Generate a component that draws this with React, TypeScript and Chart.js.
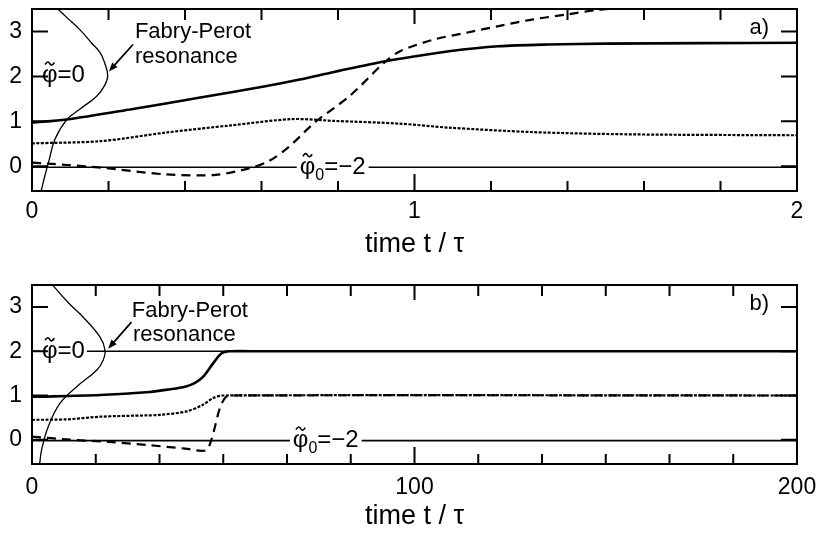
import { useEffect, useRef } from "react";
import { Chart, registerables } from "chart.js";

Chart.register(...registerables);

type Pt = [number, number];

const FONT = "'Liberation Sans', Arial, Helvetica, sans-serif";

// ---- shared phase axis ----
const phaseMin = -0.55;
const phaseMax = 3.5;
const phaseTicks = [0, 1, 2, 3];
const phi0Level = -0.02; // φ̃0 = −2 reference line
const phiZeroLevel = 2.0; // φ̃ = 0 reference line

// ---- panel a): t from 0 to 2 τ ----
const timeTicksA = [0, 1, 2];
const timeMinorA = [0.2, 0.4, 0.6, 0.8, 1.2, 1.4, 1.6, 1.8];
const resonanceA: Pt[] = [
  [0.024, -0.55], [0.034, -0.2], [0.043, 0.08], [0.06, 0.6], [0.091, 1.04],
  [0.125, 1.27], [0.169, 1.56], [0.19, 1.8], [0.198, 2.02], [0.19, 2.3],
  [0.178, 2.53], [0.155, 2.75], [0.125, 3.04], [0.095, 3.28], [0.065, 3.52],
];
const solidA: Pt[] = [
  [0, 0.97], [0.09, 1.04], [0.26, 1.27], [0.44, 1.53], [0.61, 1.78], [0.7, 1.93],
  [0.79, 2.1], [0.92, 2.33], [0.99, 2.43], [1.09, 2.56], [1.22, 2.67],
  [1.35, 2.71], [1.5, 2.73], [1.75, 2.74], [2.0, 2.75],
];
const dottedA: Pt[] = [
  [0, 0.51], [0.18, 0.56], [0.35, 0.75], [0.52, 0.91], [0.68, 1.05], [0.79, 1.01],
  [0.96, 0.95], [1.09, 0.86], [1.31, 0.76], [1.57, 0.71], [2.0, 0.69],
];
const dashedA: Pt[] = [
  [0, 0.08], [0.04, 0.06], [0.18, -0.03], [0.35, -0.18], [0.48, -0.19],
  [0.57, -0.04], [0.62, 0.12], [0.67, 0.42], [0.74, 0.98], [0.83, 1.56],
  [0.92, 2.3], [0.96, 2.55], [1.05, 2.82], [1.135, 2.97], [1.22, 3.12],
  [1.31, 3.27], [1.4, 3.38], [1.48, 3.48], [1.57, 3.53], [1.8, 3.58], [2.0, 3.6],
];

// ---- panel b): t from 0 to 200 τ ----
const timeTicksB = [0, 100, 200];
const timeMinorB = [
  16.667, 33.333, 50, 66.667, 83.333, 116.667, 133.333, 150, 166.667, 183.333,
];
const resonanceB: Pt[] = [
  [2.0, -0.55], [2.53, -0.22], [4.26, 0.3], [7.3, 0.82], [11.7, 1.2],
  [16.9, 1.57], [18.6, 1.8], [19.1, 2.02], [17.8, 2.32], [13.4, 2.77],
  [9.5, 3.1], [5.56, 3.48],
];
const solidB: Pt[] = [
  [0, 0.97], [17.8, 1.01], [30.8, 1.08], [36, 1.14], [40, 1.2], [42.5, 1.28],
  [44.7, 1.42], [47.3, 1.72], [49.5, 1.95], [51.7, 2.0], [60, 2.0], [200, 2.0],
];
const dottedB: Pt[] = [
  [0, 0.45], [9, 0.46], [17.8, 0.52], [30, 0.55], [33.4, 0.56], [40.4, 0.64],
  [44.7, 0.79], [47.3, 0.94], [50, 1.0], [200, 1.0],
];
const dashedB: Pt[] = [
  [0, 0.07], [10, 0.0], [20, -0.05], [30, -0.12], [40, -0.2], [45.5, -0.24],
  [46.9, 0.0], [48, 0.35], [49.1, 0.71], [50.5, 0.95], [52, 1.0], [200, 1.0],
];

type Notes = {
  tag: string;
  tagRight: Pt;
  fabryAt: Pt;
  resonanceAt: Pt;
  arrowFrom: Pt;
  arrowTo: Pt;
  phiAt: Pt;
  phi0At: Pt;
};

type PanelSpec = {
  xMax: number;
  xTicks: number[];
  xMinor: number[];
  resonance: Pt[];
  solid: Pt[];
  dotted: Pt[];
  dashed: Pt[];
  zeroLine: boolean;
  padTop: number;
  xAxisH: number;
  xLabelPad: number;
  titlePadB: number;
  notes: Notes;
};

const toXY = (pts: Pt[]) => pts.map(([x, y]) => ({ x, y }));

function drawTilde(ctx: CanvasRenderingContext2D, cx: number, cy: number, w: number) {
  ctx.save();
  ctx.lineWidth = 1.6;
  ctx.beginPath();
  ctx.moveTo(cx - w / 2, cy + 1);
  ctx.bezierCurveTo(cx - w / 4, cy - 2.5, cx - w / 8, cy - 2, cx, cy);
  ctx.bezierCurveTo(cx + w / 8, cy + 2, cx + w / 4, cy + 2.5, cx + w / 2, cy - 1);
  ctx.stroke();
  ctx.restore();
}

function notesPlugin(n: Notes, major: number[], minor: number[]) {
  return {
    id: "notes",
    afterDatasetsDraw(chart: any) {
      const { ctx, chartArea: a, scales } = chart;
      const px = (t: number) => scales.x.getPixelForValue(t);
      const py = (v: number) => scales.y.getPixelForValue(v);
      ctx.save();
      ctx.fillStyle = "#000";
      ctx.strokeStyle = "#000";
      ctx.textBaseline = "middle";
      ctx.textAlign = "left";

      // φ̃ = 0 label (breaks the reference line behind it)
      {
        const x = px(n.phiAt[0]);
        const y = py(n.phiAt[1]);
        ctx.font = `24px ${FONT}`;
        const wPhi = ctx.measureText("φ").width;
        const wRest = ctx.measureText("=0").width;
        ctx.fillStyle = "#fff";
        ctx.fillRect(x - 2, y - 4, wPhi + wRest + 4, 8);
        ctx.fillStyle = "#000";
        ctx.fillText("φ", x, y);
        drawTilde(ctx, x + wPhi / 2, y - 12, wPhi * 0.6);
        ctx.fillText("=0", x + wPhi, y);
      }

      // φ̃0 = −2 label on its reference line
      {
        const x = px(n.phi0At[0]);
        const y = py(n.phi0At[1]);
        ctx.font = `24px ${FONT}`;
        const wPhi = ctx.measureText("φ").width;
        const wEq = ctx.measureText("=−2").width;
        ctx.font = `16px ${FONT}`;
        const wSub = ctx.measureText("0").width;
        ctx.fillStyle = "#fff";
        ctx.fillRect(x - 3, y - 4, wPhi + wSub + wEq + 6, 8);
        ctx.fillStyle = "#000";
        ctx.font = `24px ${FONT}`;
        ctx.fillText("φ", x, y);
        drawTilde(ctx, x + wPhi / 2, y - 12, wPhi * 0.6);
        ctx.font = `16px ${FONT}`;
        ctx.fillText("0", x + wPhi, y + 8);
        ctx.font = `24px ${FONT}`;
        ctx.fillText("=−2", x + wPhi + wSub, y);
      }

      // Fabry-Perot resonance caption and arrow
      ctx.font = `22px ${FONT}`;
      ctx.fillText("Fabry-Perot", px(n.fabryAt[0]), py(n.fabryAt[1]));
      ctx.fillText("resonance", px(n.resonanceAt[0]), py(n.resonanceAt[1]));
      {
        const x0 = px(n.arrowFrom[0]);
        const y0 = py(n.arrowFrom[1]);
        const x1 = px(n.arrowTo[0]);
        const y1 = py(n.arrowTo[1]);
        const ang = Math.atan2(y1 - y0, x1 - x0);
        const head = 9;
        ctx.lineWidth = 1.8;
        ctx.beginPath();
        ctx.moveTo(x0, y0);
        ctx.lineTo(x1 - Math.cos(ang) * head * 0.6, y1 - Math.sin(ang) * head * 0.6);
        ctx.stroke();
        ctx.beginPath();
        ctx.moveTo(x1, y1);
        ctx.lineTo(
          x1 - head * Math.cos(ang) + 3.5 * Math.sin(ang),
          y1 - head * Math.sin(ang) - 3.5 * Math.cos(ang)
        );
        ctx.lineTo(
          x1 - head * Math.cos(ang) - 3.5 * Math.sin(ang),
          y1 - head * Math.sin(ang) + 3.5 * Math.cos(ang)
        );
        ctx.closePath();
        ctx.fill();
      }

      // panel tag
      ctx.textAlign = "right";
      ctx.font = `22px ${FONT}`;
      ctx.fillText(n.tag, px(n.tagRight[0]), py(n.tagRight[1]));

      // frame
      ctx.lineWidth = 2;
      ctx.strokeRect(a.left, a.top, a.right - a.left, a.bottom - a.top);

      // inward ticks on all four sides
      const yLen = 16;
      ctx.lineWidth = 2;
      ctx.beginPath();
      for (const v of phaseTicks) {
        const y = py(v);
        ctx.moveTo(a.left, y);
        ctx.lineTo(a.left + yLen, y);
        ctx.moveTo(a.right, y);
        ctx.lineTo(a.right - yLen, y);
      }
      for (const t of major) {
        const x = px(t);
        ctx.moveTo(x, a.bottom);
        ctx.lineTo(x, a.bottom - 17);
        ctx.moveTo(x, a.top);
        ctx.lineTo(x, a.top + 15);
      }
      for (const t of minor) {
        const x = px(t);
        ctx.moveTo(x, a.bottom);
        ctx.lineTo(x, a.bottom - 10);
        ctx.moveTo(x, a.top);
        ctx.lineTo(x, a.top + 11);
      }
      ctx.stroke();
      ctx.restore();
    },
  };
}

function buildConfig(p: PanelSpec): any {
  const lineBase = { showLine: true, pointRadius: 0, borderColor: "#000", fill: false };
  const datasets: any[] = [
    { ...lineBase, data: toXY(p.resonance), borderWidth: 1.3, tension: 0.4 },
    { ...lineBase, data: [{ x: 0, y: phi0Level }, { x: p.xMax, y: phi0Level }], borderWidth: 1.6 },
  ];
  if (p.zeroLine) {
    datasets.push({
      ...lineBase,
      data: [{ x: 0, y: phiZeroLevel }, { x: p.xMax, y: phiZeroLevel }],
      borderWidth: 1.6,
    });
  }
  datasets.push(
    { ...lineBase, data: toXY(p.dotted), borderWidth: 2.2, borderDash: [3, 1.5], tension: 0.3 },
    { ...lineBase, data: toXY(p.dashed), borderWidth: 2.2, borderDash: [9, 6], tension: 0.3 },
    { ...lineBase, data: toXY(p.solid), borderWidth: 2.6, tension: 0.3 }
  );
  const majors = p.xTicks.filter((t) => t > 0 && t < p.xMax);
  return {
    type: "scatter",
    data: { datasets },
    options: {
      animation: false,
      responsive: false,
      devicePixelRatio: 1,
      layout: { padding: { top: p.padTop, right: 22, bottom: 0, left: 0 } },
      plugins: { legend: { display: false }, tooltip: { enabled: false } },
      scales: {
        x: {
          type: "linear",
          min: 0,
          max: p.xMax,
          grid: { display: false, drawTicks: false },
          border: { display: false },
          ticks: {
            font: { family: FONT, size: 23 },
            color: "#000",
            padding: p.xLabelPad,
            maxRotation: 0,
            autoSkip: false,
            callback: (v: number) => String(v),
          },
          afterBuildTicks: (s: any) => {
            s.ticks = p.xTicks.map((value) => ({ value }));
          },
          afterFit: (s: any) => {
            s.height = p.xAxisH;
            s.paddingLeft = 0;
            s.paddingRight = 0;
          },
          title: {
            display: true,
            text: "time t / τ",
            font: { family: FONT, size: 27 },
            color: "#000",
            padding: { top: 0, bottom: p.titlePadB },
          },
        },
        y: {
          type: "linear",
          min: phaseMin,
          max: phaseMax,
          grid: { display: false, drawTicks: false },
          border: { display: false },
          ticks: {
            font: { family: FONT, size: 23 },
            color: "#000",
            padding: 10,
            autoSkip: false,
            callback: (v: number) => String(v),
          },
          afterBuildTicks: (s: any) => {
            s.ticks = phaseTicks.map((value) => ({ value }));
          },
          afterFit: (s: any) => {
            s.width = 32;
            s.paddingTop = 0;
            s.paddingBottom = 0;
          },
        },
      },
    },
    plugins: [notesPlugin(p.notes, majors, p.xMinor)],
  };
}

const panelA: PanelSpec = {
  xMax: 2,
  xTicks: timeTicksA,
  xMinor: timeMinorA,
  resonance: resonanceA,
  solid: solidA,
  dotted: dottedA,
  dashed: dashedA,
  zeroLine: false,
  padTop: 9,
  xAxisH: 75,
  xLabelPad: 7,
  titlePadB: 5,
  notes: {
    tag: "a)",
    tagRight: [1.927, 3.08],
    fabryAt: [0.269, 2.99],
    resonanceAt: [0.269, 2.43],
    arrowFrom: [0.264, 2.71],
    arrowTo: [0.201, 2.11],
    phiAt: [0.026, 2.02],
    phi0At: [0.7, phi0Level],
  },
};

const panelB: PanelSpec = {
  xMax: 200,
  xTicks: timeTicksB,
  xMinor: timeMinorB,
  resonance: resonanceB,
  solid: solidB,
  dotted: dottedB,
  dashed: dashedB,
  zeroLine: true,
  padTop: 19,
  xAxisH: 69,
  xLabelPad: 10,
  titlePadB: 0,
  notes: {
    tag: "b)",
    tagRight: [192.7, 3.08],
    fabryAt: [26.1, 2.91],
    resonanceAt: [26.4, 2.36],
    arrowFrom: [26.0, 2.66],
    arrowTo: [19.9, 2.06],
    phiAt: [2.6, phiZeroLevel],
    phi0At: [68.2, phi0Level],
  },
};

function Panel({ spec, top, height }: { spec: PanelSpec; top: number; height: number }) {
  const ref = useRef<HTMLCanvasElement | null>(null);
  useEffect(() => {
    if (!ref.current) return;
    const chart = new Chart(ref.current, buildConfig(spec));
    return () => chart.destroy();
  }, [spec]);
  return (
    <canvas
      ref={ref}
      width={819}
      height={height}
      style={{ position: "absolute", left: 0, top, width: 819, height }}
    />
  );
}

export default function App() {
  return (
    <div
      style={{
        position: "absolute",
        left: 0,
        top: 0,
        width: 819,
        height: 533,
        background: "#fff",
        overflow: "hidden",
      }}
    >
      <Panel spec={panelA} top={0} height={266} />
      <Panel spec={panelB} top={266} height={267} />
    </div>
  );
}
